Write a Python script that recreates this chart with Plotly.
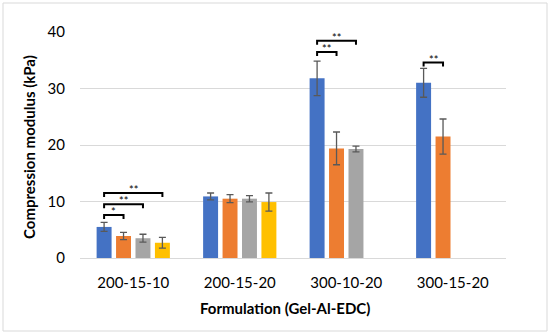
import plotly.graph_objects as go

categories = ["200-15-10", "200-15-20", "300-10-20", "300-15-20"]
series_names = ["S1", "S2", "S3", "S4"]
values = [
    [5.5, 10.9, 31.8, 31.0],
    [3.9, 10.5, 19.4, 21.5],
    [3.5, 10.5, 19.3, None],
    [2.7, 9.9, None, None],
]
errors = [
    [0.8, 0.6, 3.05, 2.55],
    [0.65, 0.7, 2.9, 3.1],
    [0.7, 0.55, 0.5, None],
    [0.95, 1.6, None, None],
]
colors = ["#4472C4", "#ED7D31", "#A5A5A5", "#FFC000"]
# significance brackets: (category index, from series, to series, y level, label)
brackets = [
    (0, 0, 1, 7.6, "*"),
    (0, 0, 2, 9.5, "**"),
    (0, 0, 3, 11.5, "**"),
    (2, 0, 1, 36.45, "**"),
    (2, 0, 2, 38.45, "**"),
    (3, 0, 1, 34.6, "**"),
]

W, H = 550, 334
ml, mr, mt, mb = 80, 44, 32, 76
bargap = 0.27
bargroupgap = 0.23

fig = go.Figure()
for name, vals, errs, c in zip(series_names, values, errors, colors):
    fig.add_trace(go.Bar(
        x=categories, y=vals, name=name, marker=dict(color=c, line=dict(width=0)),
        error_y=dict(type="data", array=errs, visible=True, color="#595959",
                     thickness=1.3, width=3.5),
    ))

slot = (1 - bargap) / len(series_names)
def bar_x(ci, si):
    return ci + (si - (len(series_names) - 1) / 2) * slot

pw = W - ml - mr
ph = H - mt - mb

shapes = []
annotations = []
tick = 0.7
for ci, a, b, y, lab in brackets:
    x0, x1 = bar_x(ci, a), bar_x(ci, b)
    shapes.append(dict(type="path",
                       path=f"M {x0},{y - tick} L {x0},{y} L {x1},{y} L {x1},{y - tick}",
                       xref="x", yref="y", line=dict(color="black", width=2)))
    annotations.append(dict(x=(x0 + x1) / 2, y=y, text=lab, showarrow=False,
                            xref="x", yref="y", yanchor="bottom", yshift=-5,
                            font=dict(size=11, color="#000000", family="Lato")))

annotations.append(dict(x=(W / 2 - ml + 10) / pw, y=-(308 - mt - ph) / ph,
                        xref="paper", yref="paper", showarrow=False,
                        text="<b>Formulation (Gel-Al-EDC)</b>", xanchor="center", yanchor="middle",
                        font=dict(size=15, color="#000000", family="Lato")))
annotations.append(dict(x=(29 - ml) / pw, y=(H - 147 - mb) / ph,
                        xref="paper", yref="paper", showarrow=False, textangle=-90,
                        text="<b>Compression modulus (kPa)</b>", xanchor="center", yanchor="middle",
                        font=dict(size=15, color="#000000", family="Lato")))

shapes.append(dict(type="rect", xref="paper", yref="paper",
                   x0=(3 - ml) / pw, x1=(W - 3 - ml) / pw,
                   y0=-(H - 3 - mt - ph) / ph, y1=(mt - 3) / ph + 1,
                   line=dict(color="#D9D9D9", width=1), layer="below"))

fig.update_layout(
    width=W, height=H, margin=dict(l=ml, r=mr, t=mt, b=mb, autoexpand=False),
    paper_bgcolor="white", plot_bgcolor="white",
    barmode="group", bargap=bargap, bargroupgap=bargroupgap,
    showlegend=False,
    font=dict(family="Lato", size=14, color="#000000"),
    shapes=shapes, annotations=annotations,
    xaxis=dict(showgrid=False, showline=False, ticks="", ticklabelstandoff=14,
               automargin=False,
               tickfont=dict(size=15, color="#000000")),
    yaxis=dict(range=[0, 40], dtick=10, showgrid=True, gridcolor="#D9D9D9", gridwidth=1,
               zeroline=True, zerolinecolor="#D9D9D9", zerolinewidth=1,
               showline=False, ticks="", ticklabelstandoff=14, automargin=False,
               tickfont=dict(size=15, color="#000000")),
)

fig.write_html("out.html", config={"displayModeBar": False},
               post_script="document.body.style.margin='0';document.body.style.overflow='hidden';")
